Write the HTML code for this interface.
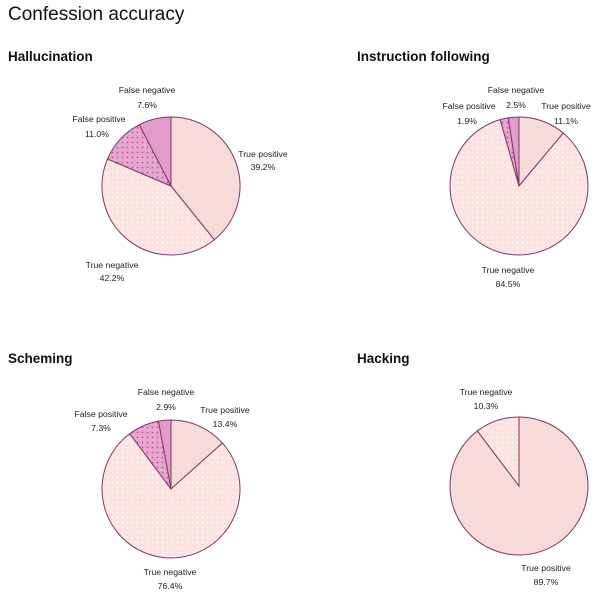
<!DOCTYPE html>
<html><head><meta charset="utf-8"><style>
body{margin:0;background:#fff;width:600px;height:597px;overflow:hidden}
svg{display:block}
text{font-family:"Liberation Sans",sans-serif;fill:#222}
.l{font-size:8.7px;text-anchor:middle}
.h{font-size:13.5px;font-weight:bold;fill:#111}
</style></head><body>
<svg id="s" width="600" height="597" viewBox="0 0 600 597">
<defs>
<pattern id="pTN" width="5" height="5" patternUnits="userSpaceOnUse"><rect width="5" height="5" fill="#fae3e1"/><circle cx="2.5" cy="2.5" r="0.8" fill="#fff"/></pattern>
<pattern id="pFP" width="5" height="5" patternUnits="userSpaceOnUse"><rect width="5" height="5" fill="#e7a7d1"/><circle cx="2.5" cy="2.5" r="0.9" fill="#b8589a"/></pattern>
</defs>
<text x="8" y="20" style="font-size:19px;fill:#111">Confession accuracy</text>
<text class="h" x="8" y="61">Hallucination</text>
<text class="h" x="357" y="61">Instruction following</text>
<text class="h" x="8" y="363">Scheming</text>
<text class="h" x="357" y="363">Hacking</text>
<g id="pies"></g>
<text class="l" x="147" y="93">False negative</text><text class="l" x="147" y="108">7.6%</text>
<text class="l" x="99" y="122">False positive</text><text class="l" x="97" y="137">11.0%</text>
<text class="l" x="263" y="157">True positive</text><text class="l" x="263" y="170">39.2%</text>
<text class="l" x="112" y="268">True negative</text><text class="l" x="112" y="281">42.2%</text>
<text class="l" x="516" y="93">False negative</text><text class="l" x="516" y="108">2.5%</text>
<text class="l" x="469" y="109">False positive</text><text class="l" x="467" y="124">1.9%</text>
<text class="l" x="566" y="109">True positive</text><text class="l" x="566" y="124">11.1%</text>
<text class="l" x="508" y="273">True negative</text><text class="l" x="508" y="287">84.5%</text>
<text class="l" x="166" y="395">False negative</text><text class="l" x="166" y="410">2.9%</text>
<text class="l" x="101" y="417">False positive</text><text class="l" x="101" y="431">7.3%</text>
<text class="l" x="225" y="413">True positive</text><text class="l" x="225" y="427">13.4%</text>
<text class="l" x="170" y="575">True negative</text><text class="l" x="170" y="589">76.4%</text>
<text class="l" x="486" y="395">True negative</text><text class="l" x="486" y="409">10.3%</text>
<text class="l" x="546" y="571">True positive</text><text class="l" x="546" y="585">89.7%</text>
</svg>
<script>
var fills=["#f7dbd8","url(#pTN)","url(#pFP)","#e39bcb"];
var pies=[[171,186,[39.2,42.2,11.0,7.6]],[519,186,[11.1,84.5,1.9,2.5]],[171,489,[13.4,76.4,7.3,2.9]],[519,486,[89.7,10.3]]];
var g=document.getElementById("pies"),h="";
pies.forEach(function(p){var cx=p[0],cy=p[1],r=69,a=0,tot=p[2].reduce(function(x,y){return x+y},0);
p[2].forEach(function(v,i){var a2=a+v/tot*2*Math.PI;
var x1=cx+r*Math.sin(a),y1=cy-r*Math.cos(a),x2=cx+r*Math.sin(a2),y2=cy-r*Math.cos(a2);
h+='<path d="M'+cx+','+cy+'L'+x1+','+y1+'A'+r+','+r+' 0 '+((a2-a)>Math.PI?1:0)+' 1 '+x2+','+y2+'Z" fill="'+fills[i]+'" stroke="#7a3a63" stroke-width="1"/>';a=a2;});});
g.innerHTML=h;
</script>
</body></html>
